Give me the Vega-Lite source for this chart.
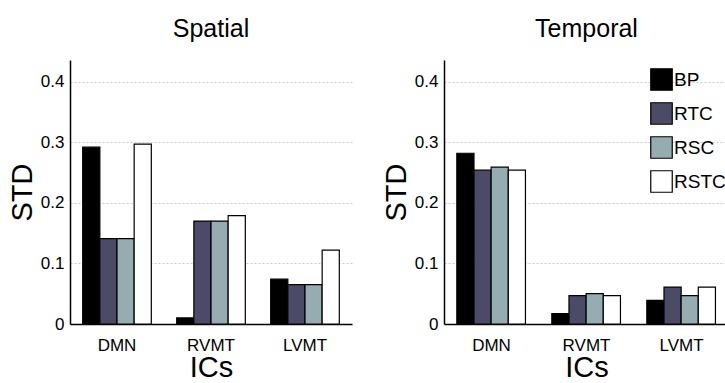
{
  "$schema": "https://vega.github.io/schema/vega-lite/v6.json",
  "padding": {"left": 8, "top": 17, "right": 0, "bottom": 0},
  "background": "white",
  "spacing": 30,
  "config": {
    "view": {"stroke": null},
    "font": "Liberation Sans",
    "axis": {
      "domainColor": "black",
      "domainWidth": 1.5,
      "ticks": false,
      "labelColor": "black",
      "titleColor": "black",
      "labelFont": "Liberation Sans",
      "titleFont": "Liberation Sans",
      "titleFontWeight": "normal",
      "labelFontSize": 17,
      "gridColor": "#bbbbbb",
      "gridDash": [2, 2],
      "gridWidth": 0.8
    },
    "legend": {"labelFont": "Liberation Sans"},
    "title": {"fontSize": 25, "fontWeight": "normal", "color": "black", "font": "Liberation Sans", "frame": "group", "anchor": "middle", "offset": 18}
  },
  "datasets": {
    "spatial": [
      {"ic": "DMN", "method": "BP", "std": 0.292},
      {"ic": "DMN", "method": "RTC", "std": 0.141},
      {"ic": "DMN", "method": "RSC", "std": 0.141},
      {"ic": "DMN", "method": "RSTC", "std": 0.297},
      {"ic": "RVMT", "method": "BP", "std": 0.010},
      {"ic": "RVMT", "method": "RTC", "std": 0.170},
      {"ic": "RVMT", "method": "RSC", "std": 0.170},
      {"ic": "RVMT", "method": "RSTC", "std": 0.179},
      {"ic": "LVMT", "method": "BP", "std": 0.074},
      {"ic": "LVMT", "method": "RTC", "std": 0.065},
      {"ic": "LVMT", "method": "RSC", "std": 0.065},
      {"ic": "LVMT", "method": "RSTC", "std": 0.122}
    ],
    "temporal": [
      {"ic": "DMN", "method": "BP", "std": 0.282},
      {"ic": "DMN", "method": "RTC", "std": 0.254},
      {"ic": "DMN", "method": "RSC", "std": 0.259},
      {"ic": "DMN", "method": "RSTC", "std": 0.254},
      {"ic": "RVMT", "method": "BP", "std": 0.017},
      {"ic": "RVMT", "method": "RTC", "std": 0.047},
      {"ic": "RVMT", "method": "RSC", "std": 0.050},
      {"ic": "RVMT", "method": "RSTC", "std": 0.047},
      {"ic": "LVMT", "method": "BP", "std": 0.039},
      {"ic": "LVMT", "method": "RTC", "std": 0.061},
      {"ic": "LVMT", "method": "RSC", "std": 0.047},
      {"ic": "LVMT", "method": "RSTC", "std": 0.061}
    ]
  },
  "resolve": {"legend": {"color": "independent"}},
  "hconcat": [
    {
      "title": "Spatial",
      "width": 282,
      "height": 264,
      "data": {"name": "spatial"},
      "mark": {"type": "bar", "stroke": "black", "strokeWidth": 1.2},
      "encoding": {
        "x": {
          "field": "ic", "type": "nominal", "sort": ["DMN", "RVMT", "LVMT"],
          "scale": {"paddingInner": 0.27, "paddingOuter": 0.135},
          "axis": {"title": "ICs", "titleFontSize": 29, "labelAngle": 0, "labelPadding": 13, "titlePadding": 0, "grid": false}
        },
        "xOffset": {"field": "method", "type": "nominal", "sort": ["BP", "RTC", "RSC", "RSTC"], "scale": {"paddingInner": 0, "paddingOuter": 0}},
        "y": {
          "field": "std", "type": "quantitative",
          "scale": {"domain": [0, 0.436], "nice": false},
          "axis": {"title": "STD", "titleFontSize": 29, "values": [0, 0.1, 0.2, 0.3, 0.4], "labelExpr": "datum.value == 0 ? '0' : format(datum.value, '.1f')", "labelPadding": 6, "titlePadding": 3, "grid": true}
        },
        "color": {
          "field": "method", "type": "nominal", "sort": ["BP", "RTC", "RSC", "RSTC"],
          "scale": {"domain": ["BP", "RTC", "RSC", "RSTC"], "range": ["#000000", "#4b4a67", "#95acb1", "#ffffff"]},
          "legend": null
        }
      }
    },
    {
      "title": "Temporal",
      "width": 285,
      "height": 264,
      "data": {"name": "temporal"},
      "mark": {"type": "bar", "stroke": "black", "strokeWidth": 1.2},
      "encoding": {
        "x": {
          "field": "ic", "type": "nominal", "sort": ["DMN", "RVMT", "LVMT"],
          "scale": {"paddingInner": 0.27, "paddingOuter": 0.135},
          "axis": {"title": "ICs", "titleFontSize": 29, "labelAngle": 0, "labelPadding": 13, "titlePadding": 0, "grid": false}
        },
        "xOffset": {"field": "method", "type": "nominal", "sort": ["BP", "RTC", "RSC", "RSTC"], "scale": {"paddingInner": 0, "paddingOuter": 0}},
        "y": {
          "field": "std", "type": "quantitative",
          "scale": {"domain": [0, 0.436], "nice": false},
          "axis": {"title": "STD", "titleFontSize": 29, "values": [0, 0.1, 0.2, 0.3, 0.4], "labelExpr": "datum.value == 0 ? '0' : format(datum.value, '.1f')", "labelPadding": 6, "titlePadding": 3, "grid": true}
        },
        "color": {
          "field": "method", "type": "nominal", "sort": ["BP", "RTC", "RSC", "RSTC"],
          "scale": {"domain": ["BP", "RTC", "RSC", "RSTC"], "range": ["#000000", "#4b4a67", "#95acb1", "#ffffff"]},
          "legend": {
            "title": null, "orient": "none", "legendX": 206, "legendY": 8, "padding": 0,
            "symbolType": "square", "symbolSize": 462, "symbolStrokeColor": "black", "symbolStrokeWidth": 1.2,
            "labelFontSize": 19, "labelColor": "black", "labelOffset": 1, "rowPadding": 7
          }
        }
      }
    }
  ]
}
